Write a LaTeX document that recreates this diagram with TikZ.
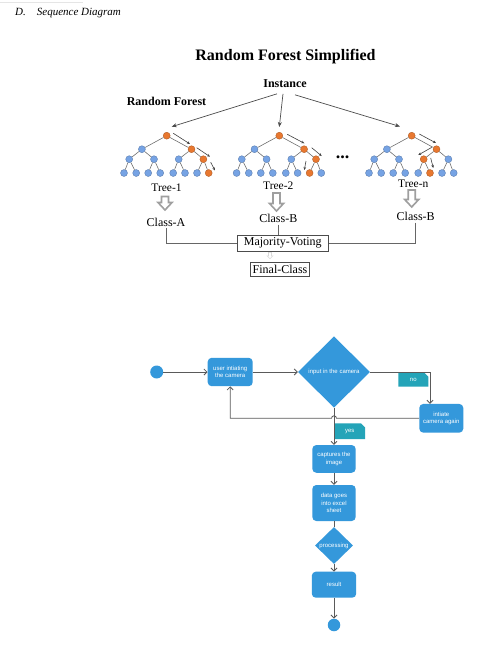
\documentclass[tikz,border=0pt]{standalone}
\usepackage{fontspec}
\setmainfont{Liberation Serif}
\newfontfamily\fcfont{Liberation Sans}
\usetikzlibrary{arrows.meta,shapes.geometric,calc}
\definecolor{tblue}{RGB}{118,163,228}
\definecolor{torng}{RGB}{232,120,48}
\definecolor{fblue}{RGB}{52,152,219}
\definecolor{fteal}{RGB}{36,164,184}
\definecolor{flowgray}{RGB}{90,90,90}

% tree: prefix, x, y, orange level-3 index, orange leaf index, arrow list
\newcommand{\rftree}[6]{%
\begin{scope}[shift={(#2,#3)}]
 \node[tnode=torng] (#1r) at (0,0) {};
 \node[tnode=tblue] (#1a1) at (-24.8,13.5) {};
 \node[tnode=torng] (#1a2) at (24.8,13.5) {};
 \foreach \i/\dx in {1/-37.5,2/-12.7,3/12,4/36.7}{%
   \ifnum\i=#4\relax\def\tc{torng}\else\def\tc{tblue}\fi
   \node[tnode=\tc] (#1b\i) at (\dx,23.5) {};}
 \foreach \j/\dx in {1/-42.7,2/-30.5,3/-18.5,4/-6.5,5/6.5,6/18.3,7/30.3,8/42}{%
   \ifnum\j=#5\relax\def\tc{torng}\else\def\tc{tblue}\fi
   \node[tnode=\tc] (#1c\j) at (\dx,37.3) {};}
 \draw[tedge] (#1r) -- (#1a1);
 \draw[tedge] (#1r) -- (#1a2);
 \draw[tedge] (#1a1) -- (#1b1);
 \draw[tedge] (#1a1) -- (#1b2);
 \draw[tedge] (#1a2) -- (#1b3);
 \draw[tedge] (#1a2) -- (#1b4);
 \foreach \j in {1,...,8}{\pgfmathtruncatemacro\p{ceil(\j/2)}\draw[tedge] (#1b\p) -- (#1c\j);}
 \foreach \xa/\ya/\xb/\yb in {#6}{\draw[tarr] (\xa,\ya) -- (\xb,\yb);}
\end{scope}}

% hollow block arrow: x, top, bottom
\newcommand{\garrow}[3]{%
 \draw[garr] (#1-3.5,#2) -- (#1+3.5,#2) -- (#1+3.5,#3-7.5) -- (#1+7,#3-7.5) -- (#1,#3)
   -- (#1-7,#3-7.5) -- (#1-3.5,#3-7.5) -- cycle;}

\begin{document}
\begin{tikzpicture}[x=1pt,y=-1pt,
  tnode/.style={circle, minimum size=7pt, inner sep=0pt, fill=#1, draw=#1!75!black, line width=0.35pt},
  tedge/.style={draw=gray!80!black, line width=0.55pt},
  tarr/.style={draw=black!75, line width=0.6pt, -{Stealth[length=3pt,width=2.6pt]}},
  iarr/.style={draw=black!70, line width=0.7pt, -{Stealth[length=5pt,width=4pt]}},
  garr/.style={draw=gray!75, line width=1.6pt, fill=white, line join=miter},
  rftxt/.style={font=\fontsize{12}{14}\selectfont, inner sep=1.5pt, anchor=base},
  rfbox/.style={draw=black!70, line width=0.7pt, font=\fontsize{12}{14}\selectfont, inner sep=1pt},
  conn/.style={draw=gray!80!black, line width=0.8pt},
  fbox/.style={rectangle, rounded corners=4pt, fill=fblue, draw=none, text=white, align=center,
     font=\fcfont\fontsize{6}{7.5}\selectfont, inner sep=1pt},
  fdia/.style={diamond, fill=fblue, draw=none, text=white, inner sep=0pt,
     font=\fcfont\fontsize{6}{7.5}\selectfont},
  fdot/.style={circle, fill=fblue, draw=none, inner sep=0pt},
  ftag/.style={rectangle, draw=none, text=white, inner sep=0pt, font=\fcfont\fontsize{6}{7.5}\selectfont,
     path picture={\fill[fteal] (path picture bounding box.south west) -- (path picture bounding box.north west)
        -- ([xshift=-4pt]path picture bounding box.north east) -- ([yshift=-4pt]path picture bounding box.north east)
        -- (path picture bounding box.south east) -- cycle;}},
  flow/.style={draw=flowgray, line width=0.8pt, -{Straight Barb[length=3pt,width=6pt]}},
  flowplain/.style={draw=flowgray, line width=0.8pt}]
\useasboundingbox (0,0) rectangle (489,649);
\fill[white] (0,0) rectangle (489,649);
\draw[gray!20, line width=0.6pt] (0,2.5) -- (83,2.5);

% heading
\node[font=\itshape\fontsize{11}{13}\selectfont, anchor=base west, inner sep=0pt] (hdr) at (15,15.5)
  {D.\hspace{11pt}Sequence Diagram};

% ---------------- Random forest figure ----------------
\node[font=\bfseries\fontsize{16}{18}\selectfont, anchor=base, inner sep=0pt] (title) at (285.5,60.7) {Random Forest Simplified};
\node[font=\bfseries\fontsize{12}{14}\selectfont, anchor=base, inner sep=1pt] (inst) at (285,87.5) {Instance};
\node[font=\bfseries\fontsize{12}{14}\selectfont, anchor=base, inner sep=1pt] (rflab) at (166.5,105) {Random Forest};

\rftree{t1}{166.7}{135.7}{4}{8}{6.6/-2.4/23.3/8.3, 30/12/43.3/21, 44/26.6/48.3/34.8}
\rftree{t2}{279.3}{135.7}{4}{7}{8/-1.4/25/7.6, 32.4/12/42.4/20.3, 26.7/25.3/25/34.3}
\rftree{tn}{411.7}{135.7}{3}{6}{7.6/-1.7/24.3/7.3, 20/11.7/6.6/19.3, 19/22.3/21.6/32.3}

\draw[iarr] ([shift={(-8,5)}]inst.south) -- (171.7,126.7);
\draw[iarr] ([shift={(-2,5)}]inst.south) -- (279.3,127);
\draw[iarr] ([shift={(10,6)}]inst.south) -- (400,126.5);

\node[font=\bfseries\fontsize{18}{20}\selectfont, anchor=base, inner sep=0pt] (dots) at (342.5,158.5) {...};

\node[rftxt, font=\fontsize{11.5}{13}\selectfont] (t1lab) at (166.5,191) {Tree-1};
\node[rftxt, font=\fontsize{11.5}{13}\selectfont] (t2lab) at (278.3,189) {Tree-2};
\node[rftxt, font=\fontsize{11.5}{13}\selectfont] (tnlab) at (413.3,187.3) {Tree-n};

\garrow{165}{196.5}{210}
\garrow{276.5}{193}{211}
\garrow{411.7}{190}{207}

\node[rftxt] (cA) at (166,226) {Class-A};
\node[rftxt] (cB) at (278.3,222.7) {Class-B};
\node[rftxt] (cB2) at (415.7,220.7) {Class-B};

\node[rfbox, minimum width=91pt, minimum height=16.7pt] (mv) at (282.8,243.3) {Majority-Voting};
\node[rfbox, minimum width=58.6pt, minimum height=13.3pt] (fc) at (280,269.3) {Final-Class};

\draw[conn] (cA.south) |- (mv.west);
\draw[conn] (cB.south) -- (cB.south |- mv.north);
\draw[conn] (cB2.south) |- (mv.east);
\draw[draw=gray!30, line width=0.6pt, fill=white] (268.5,252.3) -- (271.5,252.3) -- (271.5,255.8) -- (273,255.8)
   -- (270,258.8) -- (267,255.8) -- (268.5,255.8) -- cycle;

% ---------------- Flow chart ----------------
\node[fdot, minimum size=13pt] (st) at (156.7,372) {};
\node[fbox, minimum width=45pt, minimum height=28.4pt] (b1) at (230.2,372) {user intiating\\the camera};
\node[fdia, minimum width=72pt, minimum height=71.4pt] (d1) at (334,372) {input in the camera};
\node[fbox, minimum width=44pt, minimum height=28.7pt] (b2) at (441.3,418.3) {intiate\\camera again};
\node[ftag, minimum width=30pt, minimum height=14pt] (no) at (413.3,379.7) {no};
\node[ftag, minimum width=30.7pt, minimum height=15.7pt] (yes) at (349.7,431.2) {yes};
\node[fbox, minimum width=43.4pt, minimum height=27.7pt] (b3) at (334,458.9) {captures the\\image};
\node[fbox, minimum width=43.4pt, minimum height=36pt] (b4) at (334,503) {data goes\\into excel\\sheet};
\node[fdia, minimum width=38pt, minimum height=37pt] (d2) at (334,545.5) {processing};
\node[fbox, minimum width=44.4pt, minimum height=26pt] (b5) at (334,584.7) {result};
\node[fdot, minimum size=12.5pt] (en) at (334,625) {};

\draw[flow] (st) -- (b1);
\draw[flow] (b1) -- (d1);
\draw[flow] (d1.east) -| ($(b2.north)+(-11.3,0)$);
\draw[flow] (b2.west) -- ($(d1.south |- b2.west)+(2.5,0)$) arc[start angle=0, end angle=180, radius=2.5pt]
   -- (b1.south |- b2.west) -- (b1.south);
\draw[flow] (d1.south) -- (b3.north);
\draw[flow] (b3) -- (b4);
\draw[flowplain] (b4) -- (d2);
\draw[flow] (d2) -- (b5);
\draw[flow] (b5) -- (en);
\end{tikzpicture}
\end{document}
